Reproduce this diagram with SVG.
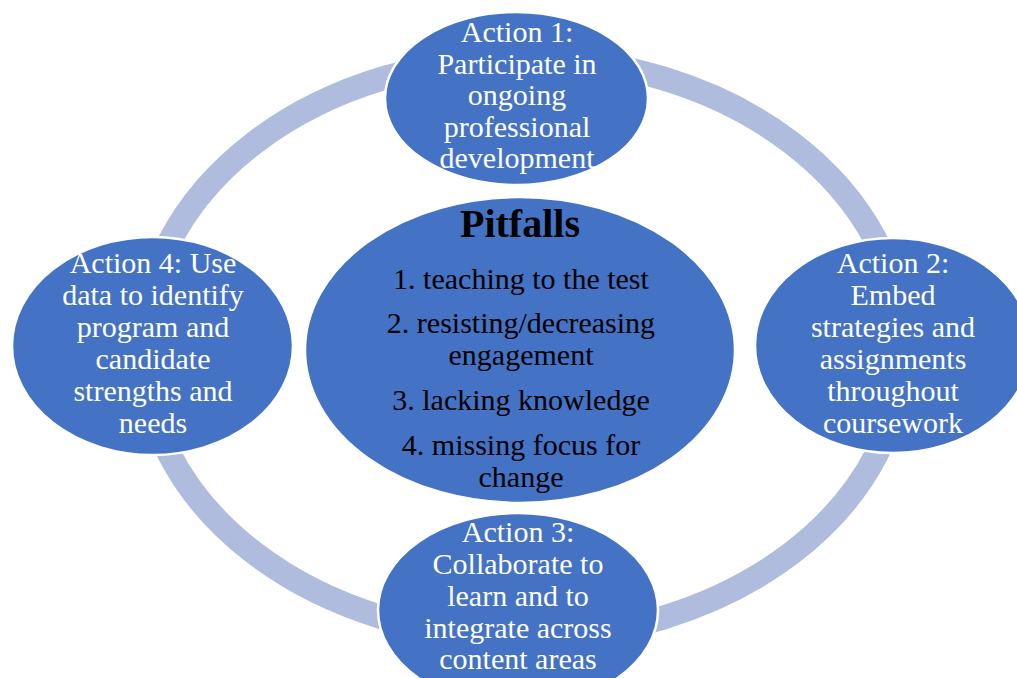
<svg xmlns="http://www.w3.org/2000/svg" width="1017" height="678" viewBox="0 0 1017 678">
<style>
.node{fill:#4472C4;stroke:#FFFFFF;stroke-width:2.5}
.wt{font-family:"Liberation Serif","Times New Roman",serif;font-size:30px;fill:#FFFFFF;text-anchor:middle}
.bt{font-family:"Liberation Serif","Times New Roman",serif;font-size:30px;fill:#000000;text-anchor:middle}
.hd{font-family:"Liberation Serif","Times New Roman",serif;font-size:40px;font-weight:bold;fill:#000000;text-anchor:middle}
</style>
<rect width="1017" height="678" fill="#FFFFFF"/>
<g id="connectors">
<ellipse cx="523" cy="348" rx="380" ry="290" fill="none" stroke="#AFBCDE" stroke-width="24"/>
</g>
<g id="action1">
<ellipse class="node" cx="516.5" cy="98.5" rx="131.5" ry="86.5"/>
<text class="wt" x="517" y="42">Action 1:</text>
<text class="wt" x="517" y="73.5">Participate in</text>
<text class="wt" x="517" y="105">ongoing</text>
<text class="wt" x="517" y="136.5">professional</text>
<text class="wt" x="517" y="168">development</text>
</g>
<g id="action2">
<ellipse class="node" cx="893" cy="345.5" rx="138" ry="107.5"/>
<text class="wt" x="893" y="273">Action 2:</text>
<text class="wt" x="893" y="305">Embed</text>
<text class="wt" x="893" y="337">strategies and</text>
<text class="wt" x="893" y="369">assignments</text>
<text class="wt" x="893" y="401">throughout</text>
<text class="wt" x="893" y="433">coursework</text>
</g>
<g id="action3">
<ellipse class="node" cx="518" cy="610" rx="140" ry="97"/>
<text class="wt" x="518" y="542">Action 3:</text>
<text class="wt" x="518" y="574">Collaborate to</text>
<text class="wt" x="518" y="606">learn and to</text>
<text class="wt" x="518" y="638">integrate across</text>
<text class="wt" x="518" y="669">content areas</text>
</g>
<g id="action4">
<ellipse class="node" cx="152.5" cy="346" rx="140.5" ry="109"/>
<text class="wt" x="153" y="273">Action 4: Use</text>
<text class="wt" x="153" y="305">data to identify</text>
<text class="wt" x="153" y="337">program and</text>
<text class="wt" x="153" y="369">candidate</text>
<text class="wt" x="153" y="401">strengths and</text>
<text class="wt" x="153" y="433">needs</text>
</g>
<g id="pitfalls">
<ellipse class="node" cx="520" cy="350" rx="215" ry="153"/>
<text class="hd" x="520" y="237">Pitfalls</text>
<text class="bt" x="521" y="289">1. teaching to the test</text>
<text class="bt" x="521" y="333">2. resisting/decreasing</text>
<text class="bt" x="521" y="365">engagement</text>
<text class="bt" x="521" y="410">3. lacking knowledge</text>
<text class="bt" x="521" y="455">4. missing focus for</text>
<text class="bt" x="521" y="487">change</text>
</g>
</svg>
